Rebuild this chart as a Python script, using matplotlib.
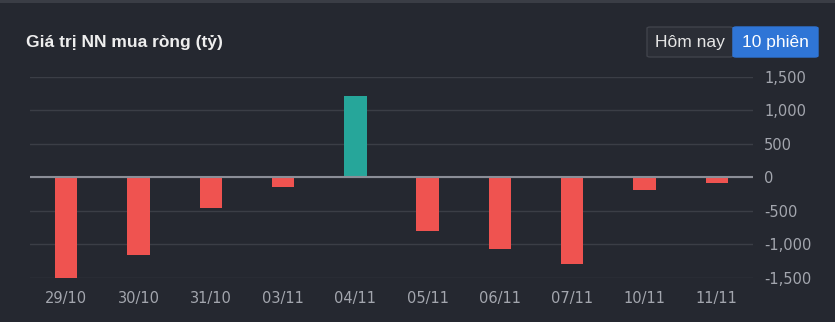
import numpy as np
import matplotlib.pyplot as plt
from matplotlib.patches import FancyBboxPatch, Rectangle
import matplotlib.ticker as ticker

# dữ liệu: giá trị khối ngoại mua ròng (tỷ đồng)
ngay = ['29/10', '30/10', '31/10', '03/11', '04/11', '05/11', '06/11', '07/11', '10/11', '11/11']
gia_tri = [-1494, -1158, -450, -143, 1213, -807, -1066, -1297, -183, -82]

bg = '#252830'
mau_do = '#ef5350'
mau_xanh = '#26a69a'
mau_chu = '#a3a6ae'

W, H = 835, 322
fig = plt.figure(figsize=(W / 100, H / 100), dpi=100, facecolor=bg)
ax = fig.add_axes([30 / W, 1 - 278 / H, (753 - 30) / W, (278 - 76.7) / H])
ax.set_facecolor(bg)

x = np.arange(len(ngay))
mau = [mau_xanh if v >= 0 else mau_do for v in gia_tri]
ax.bar(x, gia_tri, width=0.31, color=mau, zorder=3)

ax.set_xlim(-0.5, len(ngay) - 0.5)
ax.set_ylim(-1500, 1500)
ax.yaxis.set_major_locator(ticker.MultipleLocator(500))
ax.yaxis.set_major_formatter(ticker.FuncFormatter(lambda v, p: f'{int(v):,}'))
ax.yaxis.tick_right()
ax.grid(axis='y', color='#3b3e46', linewidth=1, zorder=0)
ax.axhline(0, color='#8b8e97', linewidth=1.5, zorder=4)

ax.set_xticks(x)
ax.set_xticklabels(ngay)
ax.tick_params(axis='both', length=0, colors=mau_chu, labelsize=10.5)
ax.tick_params(axis='x', pad=9)
ax.tick_params(axis='y', pad=8)
for s in ax.spines.values():
    s.set_visible(False)

# đường viền trên cùng
fig.patches.append(Rectangle((0, 1 - 3 / H), 1, 3 / H, transform=fig.transFigure,
                             facecolor='#3a3d45', edgecolor='none'))

fig.text(26 / W, 1 - 43 / H, 'Giá trị NN mua ròng (tỷ)', color='#eeeeee',
         fontsize=12.5, fontweight='bold', family='Liberation Sans', va='center', ha='left')

# nút chọn
fig.patches.append(FancyBboxPatch((647 / W, 1 - 57 / H), 86 / W, 30 / H,
                                  boxstyle='round,pad=0,rounding_size=0.004',
                                  transform=fig.transFigure, facecolor='#2b2e36',
                                  edgecolor='#40434b', linewidth=1))
fig.patches.append(FancyBboxPatch((733 / W, 1 - 57 / H), 85 / W, 30 / H,
                                  boxstyle='round,pad=0,rounding_size=0.004',
                                  transform=fig.transFigure, facecolor='#2f75d6',
                                  edgecolor='#2f75d6', linewidth=1))
fig.text(690 / W, 1 - 42 / H, 'Hôm nay', color='#e6e6e6', fontsize=12.5,
         family='Liberation Sans', ha='center', va='center')
fig.text(775.5 / W, 1 - 42 / H, '10 phiên', color='#ffffff', fontsize=12.5,
         family='Liberation Sans', ha='center', va='center')

fig.savefig('out.png', dpi=100, facecolor=bg)
